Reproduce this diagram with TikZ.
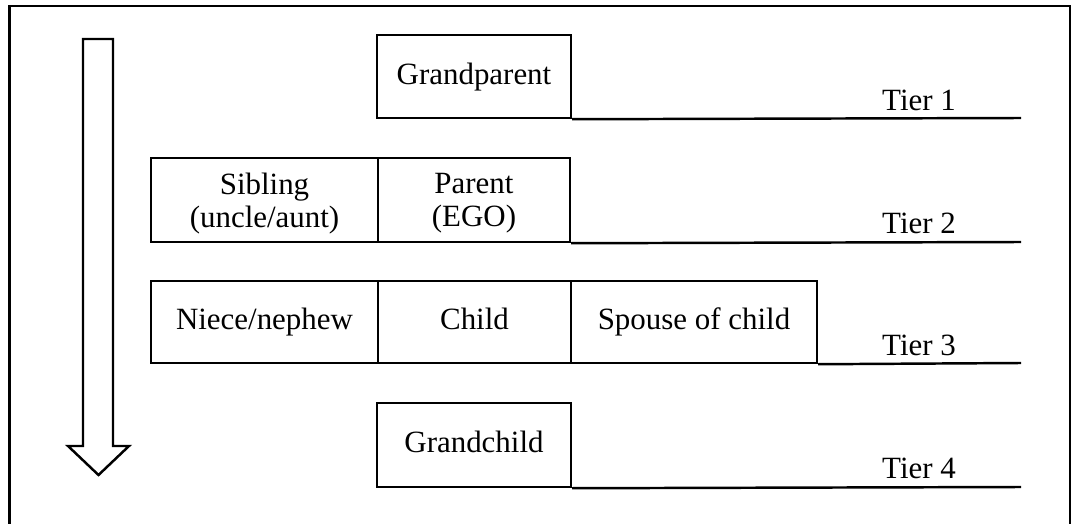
\documentclass[tikz,border=0pt]{standalone}
\usepackage{fontspec}
\setmainfont{Liberation Serif}

\begin{document}
\begin{tikzpicture}[
  font=\fontsize{17.6}{19}\selectfont,
  member/.style={draw=black, fill=white, rectangle, align=center,
    minimum height=1.66cm, inner sep=0pt, line width=1.4pt},
  oneline/.style={text height=0.9em, text depth=0pt},
  twoline/.style={text depth=0pt},
  tierline/.style={draw=black, line width=1.4pt},
  tierlabel/.style={anchor=base, inner sep=0pt},
  frame/.style={draw=black, line width=1.4pt}
]
\useasboundingbox (0,0) rectangle (21.44,-10.48);

% Outer frame, open at the bottom
\draw[frame] (0.19,-10.6) -- (0.19,-0.12) -- (21.40,-0.12) -- (21.40,-10.6);

% Hollow arrow pointing down the generations
\draw[frame, line join=miter] (1.66,-0.78) -- (2.26,-0.78) -- (2.26,-8.92)
  -- (2.58,-8.92) -- (1.97,-9.50) -- (1.36,-8.92) -- (1.66,-8.92) -- cycle;

% Tier 1
\node[member, oneline, minimum width=3.88cm] (grandparent) at (9.48,-1.53) {Grandparent};
\coordinate (tier1end) at (20.42,-2.36);
\draw[tierline] (grandparent.south east) -- (tier1end);
\node[tierlabel] (tier1) at (18.38,-2.22) {Tier 1};

% Tier 2
\node[member, twoline, minimum width=4.54cm, minimum height=1.68cm] (sibling) at (5.29,-4.00) {Sibling\\(uncle/aunt)};
\node[member, twoline, minimum width=3.84cm, minimum height=1.68cm] (parent) at (9.48,-4.00) {Parent\\(EGO)};
\coordinate (tier2end) at (20.42,-4.84);
\draw[tierline] (parent.south east) -- (tier2end);
\node[tierlabel] (tier2) at (18.38,-4.66) {Tier 2};

% Tier 3
\node[member, oneline, minimum width=4.54cm, minimum height=1.64cm] (niece) at (5.29,-6.44) {Niece/nephew};
\node[member, oneline, minimum width=3.86cm, minimum height=1.64cm] (child) at (9.49,-6.44) {Child};
\node[member, oneline, minimum width=4.92cm, minimum height=1.64cm] (spouse) at (13.88,-6.44) {Spouse of child};
\coordinate (tier3end) at (20.42,-7.26);
\draw[tierline] (spouse.south east) -- (tier3end);
\node[tierlabel] (tier3) at (18.38,-7.10) {Tier 3};

% Tier 4
\node[member, oneline, minimum width=3.88cm, minimum height=1.68cm] (grandchild) at (9.48,-8.90) {Grandchild};
\coordinate (tier4end) at (20.42,-9.74);
\draw[tierline] (grandchild.south east) -- (tier4end);
\node[tierlabel] (tier4) at (18.38,-9.56) {Tier 4};

\end{tikzpicture}
\end{document}
